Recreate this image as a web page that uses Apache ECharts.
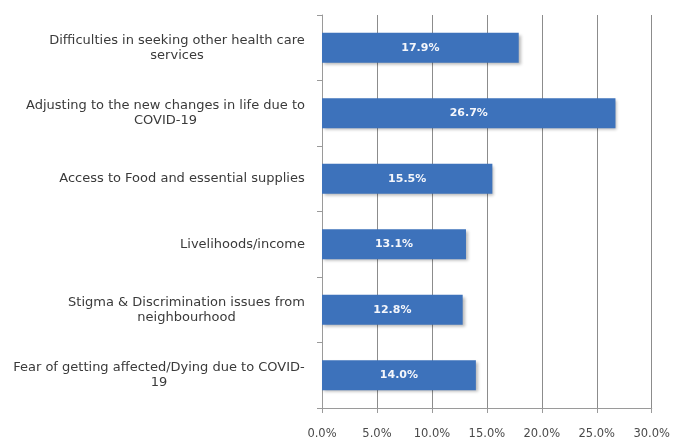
<!DOCTYPE html>
<html>
<head>
<meta charset="utf-8">
<script src="https://cdn.jsdelivr.net/npm/echarts@6/dist/echarts.min.js"></script>
<style>
  html, body { margin: 0; padding: 0; background: #fff; }
  #chart { width: 673px; height: 441px; }
</style>
</head>
<body>
<div id="chart"></div>
<script>
// Concerns reported, listed top to bottom
const categories = [
  'Difficulties in seeking other health care\nservices',
  'Adjusting to the new changes in life due to\nCOVID-19',
  'Access to Food and essential supplies',
  'Livelihoods/income',
  'Stigma & Discrimination issues from\nneighbourhood',
  'Fear of getting affected/Dying due to COVID-\n19'
];
// Share of respondents, in percent
const shares = [17.9, 26.7, 15.5, 13.1, 12.8, 14.0];
// Value axis range and step, in percent
const axisMin = 0;
const axisMax = 30;
const axisStep = 5;

const fontFamily = '"DejaVu Sans", Verdana, sans-serif';
const labelSize = 13;
const labelColor = '#3a3a3a';

// Width of the first line of each label, so following lines centre under it
const ctx = document.createElement('canvas').getContext('2d');
ctx.font = labelSize + 'px ' + fontFamily;
const rich = {};
categories.forEach((c, i) => {
  const first = c.split('\n')[0];
  rich['l' + i] = {
    width: Math.ceil(ctx.measureText(first).width),
    align: 'center',
    fontFamily: fontFamily,
    fontSize: labelSize,
    color: labelColor,
    lineHeight: 15
  };
});

const chart = echarts.init(document.getElementById('chart'), null, { renderer: 'canvas' });
chart.setOption({
  animation: false,
  backgroundColor: '#ffffff',
  grid: { left: 322, right: 21, top: 15, bottom: 33, containLabel: false },
  xAxis: {
    type: 'value',
    min: axisMin,
    max: axisMax,
    interval: axisStep,
    axisLine: { show: true, lineStyle: { color: '#9a9a9a', width: 1 } },
    axisTick: { show: true, length: 5, lineStyle: { color: '#9a9a9a' } },
    splitLine: { show: true, lineStyle: { color: '#8c8c8c', width: 1 } },
    axisLabel: {
      margin: 20,
      color: '#4a4a4a',
      fontFamily: fontFamily,
      fontSize: 11.5,
      formatter: v => v.toFixed(1) + '%'
    }
  },
  yAxis: {
    type: 'category',
    data: categories,
    inverse: true,
    axisLine: { show: true, lineStyle: { color: '#9a9a9a', width: 1 } },
    axisTick: { show: true, length: 5, inside: false, lineStyle: { color: '#9a9a9a' } },
    splitLine: { show: false },
    axisLabel: {
      margin: 17,
      align: 'right',
      formatter: value => {
        const i = categories.indexOf(value);
        return value.split('\n').map(line => '{l' + i + '|' + line + '}').join('\n');
      },
      rich: rich
    }
  },
  series: [{
    type: 'bar',
    data: shares,
    barCategoryGap: '54%',
    itemStyle: {
      color: '#3d72bb',
      shadowColor: 'rgba(0,0,0,0.28)',
      shadowBlur: 3,
      shadowOffsetX: 2,
      shadowOffsetY: 2
    },
    label: {
      show: true,
      position: 'inside',
      color: '#f4f6fb',
      fontWeight: 'bold',
      fontSize: 11,
      fontFamily: fontFamily,
      formatter: p => p.value.toFixed(1) + '%'
    }
  }]
});
</script>
</body>
</html>
